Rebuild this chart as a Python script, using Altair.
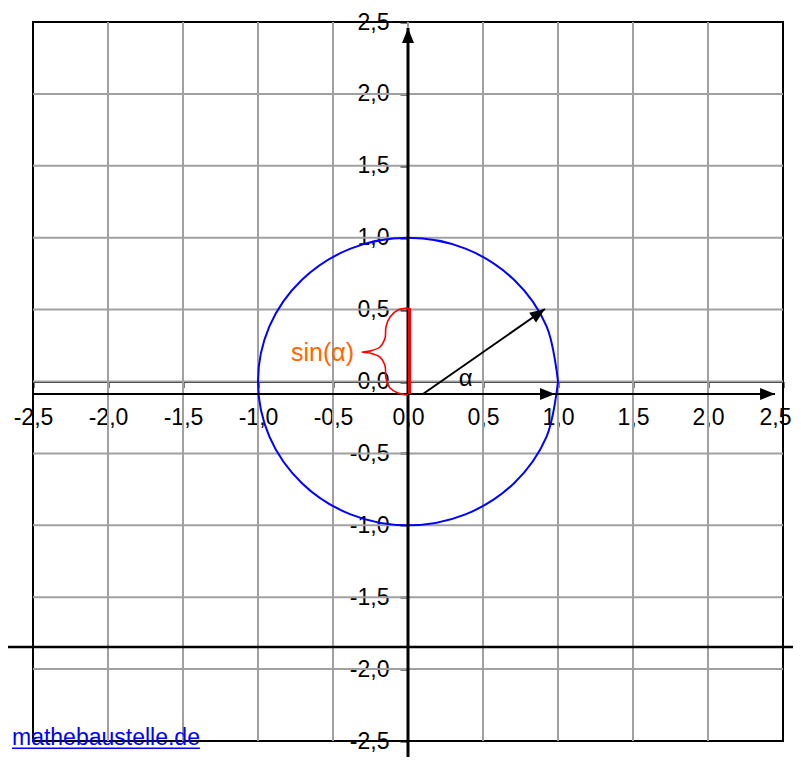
import math
import altair as alt
import pandas as pd

# ---- data ----
ticks = [-2.5, -2.0, -1.5, -1.0, -0.5, 0.0, 0.5, 1.0, 1.5, 2.0, 2.5]
grid_vals = [-2.0, -1.5, -1.0, -0.5, 0.0, 0.5, 1.0, 1.5, 2.0]

# unit circle, sampled every 22.5 degrees (as in the original spreadsheet)
circle_x = [1.0, 0.924, 0.707, 0.383, 0.0, -0.383, -0.707, -0.924, -1.0,
            -0.924, -0.707, -0.383, 0.0, 0.383, 0.707, 0.924, 1.0]
circle_y = [0.0, 0.383, 0.707, 0.924, 1.0, 0.924, 0.707, 0.383, 0.0,
            -0.383, -0.707, -0.924, -1.0, -0.924, -0.707, -0.383, 0.0]

# curly brace next to the sine segment
brace_x = [0.0, -0.067, -0.12, -0.147, -0.153, -0.187, -0.253, -0.307,
           -0.253, -0.187, -0.153, -0.147, -0.12, -0.067, 0.0]
brace_y = [0.51, 0.497, 0.449, 0.379, 0.302, 0.24, 0.212, 0.205,
           0.198, 0.17, 0.108, 0.024, -0.045, -0.08, -0.094]

# black arrows: start and tip
arrow_x1 = [-2.5, 0.0, 0.1, 0.0]
arrow_y1 = [-0.087, -0.087, -0.087, -2.67]
arrow_x2 = [2.447, 0.98, 0.913, 0.0]
arrow_y2 = [-0.087, -0.087, 0.504, 2.458]

# extra plain line below the plot
extra_x1 = [-2.72]
extra_x2 = [2.62]
extra_y = [-1.846]

# sine segment
sin_x = [0.01]
sin_y1 = [-0.087]
sin_y2 = [0.51]

labels_text = ["sin(\u03b1)", "\u03b1"]
labels_x = [-0.36, 0.385]
labels_y = [0.2, -0.031]

link_text = ["mathebaustelle.de"]
link_x = [-1.387]
link_y = [-2.528]
link_ul_x1 = [-2.64]
link_ul_x2 = [-1.387]
link_ul_y = [-2.55]

# ---- scales / axes ----
FONT = "Liberation Sans"
dom = [-2.5, 2.5]
xs = alt.Scale(domain=dom, nice=False, zero=False)
ys = alt.Scale(domain=dom, nice=False, zero=False)
lab = "(datum.value < 0 ? '-' : '') + replace(format(abs(datum.value), '.1f'), '.', ',')"

x_axis = alt.Axis(values=ticks, offset=-359.5, grid=False, domain=True,
                  domainColor="black", domainWidth=2, ticks=True, tickSize=6,
                  tickWidth=2, tickColor="black", labelExpr=lab, labelFont=FONT,
                  labelFontSize=23, labelColor="black", labelPadding=19,
                  labelOffset={"condition": {"test": "datum.value >= 2.5", "value": -8},
                               "value": 0},
                  labelFlush=False, labelOverlap=False, labelBound=False,
                  title=None)
y_axis = alt.Axis(values=ticks, offset=-375, grid=False, domain=False,
                  ticks=True, tickSize=8, tickWidth=2, tickColor="black",
                  labelExpr=lab, labelFont=FONT, labelFontSize=23,
                  labelColor="black", labelPadding=11, labelFlush=False,
                  labelOverlap=False, labelBound=False, title=None)


def X(f):
    return alt.X(f, type="quantitative", scale=xs, axis=x_axis)


def Y(f):
    return alt.Y(f, type="quantitative", scale=ys, axis=y_axis)


# ---- layers ----
vgrid = alt.Chart(pd.DataFrame({"v": grid_vals})).mark_rule(
    color="#A0A0A0", strokeWidth=2).encode(
    x=X("v"), y=alt.value(0), y2=alt.value(719))
hgrid = alt.Chart(pd.DataFrame({"v": grid_vals})).mark_rule(
    color="#A0A0A0", strokeWidth=2).encode(
    y=Y("v"), x=alt.value(0), x2=alt.value(750))

circle = alt.Chart(pd.DataFrame({"x": circle_x, "y": circle_y,
                                 "i": list(range(len(circle_x)))})).mark_line(
    color="#0000FF", strokeWidth=2, interpolate="catmull-rom").encode(
    x=X("x"), y=Y("y"), order="i:Q")

extra = alt.Chart(pd.DataFrame({"x1": extra_x1, "x2": extra_x2, "y": extra_y})).mark_rule(
    color="black", strokeWidth=2.5, clip=False).encode(
    x=X("x1"), x2="x2", y=Y("y"))

adf = pd.DataFrame({"x1": arrow_x1, "y1": arrow_y1, "x2": arrow_x2, "y2": arrow_y2})
# heading of each arrow tip on screen (plot units: 150 px per x unit, 143.8 px per y unit)
adf["ang"] = [(-math.degrees(math.atan2((b2 - b1) * 143.8, (a2 - a1) * 150.0))) % 360
              for a1, b1, a2, b2 in zip(arrow_x1, arrow_y1, arrow_x2, arrow_y2)]
adf["w"] = [2, 2, 2, 3]

arrows = alt.Chart(adf).mark_rule(color="black", clip=False).encode(
    x=X("x1"), x2="x2", y=Y("y1"), y2="y2",
    strokeWidth=alt.StrokeWidth("w:Q", scale=None))
heads = alt.Chart(adf).mark_point(
    shape="M0,0L-2,-0.8L-2,0.8Z", filled=True, color="black", opacity=1,
    size=225, strokeWidth=0, clip=False).encode(
    x=X("x2"), y=Y("y2"), angle=alt.Angle("ang:Q", scale=None))

sinline = alt.Chart(pd.DataFrame({"x": sin_x, "y1": sin_y1, "y2": sin_y2})).mark_rule(
    color="#FF0000", strokeWidth=3).encode(x=X("x"), y=Y("y1"), y2="y2")

brace = alt.Chart(pd.DataFrame({"x": brace_x, "y": brace_y,
                                "i": list(range(len(brace_x)))})).mark_line(
    color="#FF0000", strokeWidth=1.6, interpolate="catmull-rom").encode(
    x=X("x"), y=Y("y"), order="i:Q")

sin_lab = alt.Chart(pd.DataFrame({"t": labels_text[:1], "x": labels_x[:1], "y": labels_y[:1]})).mark_text(
    font=FONT, fontSize=25, color="#FF6600", align="right", baseline="middle").encode(
    x=X("x"), y=Y("y"), text="t:N")
alpha_lab = alt.Chart(pd.DataFrame({"t": labels_text[1:], "x": labels_x[1:], "y": labels_y[1:]})).mark_text(
    font=FONT, fontSize=24, color="black", align="center", baseline="alphabetic").encode(
    x=X("x"), y=Y("y"), text="t:N")

link = alt.Chart(pd.DataFrame({"t": link_text, "x": link_x, "y": link_y})).mark_text(
    font=FONT, fontSize=23, color="#0000FF", align="right", baseline="alphabetic",
    clip=False).encode(x=X("x"), y=Y("y"), text="t:N")
link_ul = alt.Chart(pd.DataFrame({"x1": link_ul_x1, "x2": link_ul_x2, "y": link_ul_y})).mark_rule(
    color="#0000FF", strokeWidth=1.5, clip=False).encode(x=X("x1"), x2="x2", y=Y("y"))

chart = alt.layer(
    vgrid, hgrid, circle, extra, arrows, heads, sinline, brace,
    sin_lab, alpha_lab, link, link_ul
).properties(
    width=750, height=719,
    autosize=alt.AutoSizeParams(type="none"),
    padding={"left": 25, "top": 14, "right": 10, "bottom": 16},
    background="white",
).configure_view(stroke="black", strokeWidth=2)

chart.save("out.html", embed_options={"renderer": "svg", "actions": False})
